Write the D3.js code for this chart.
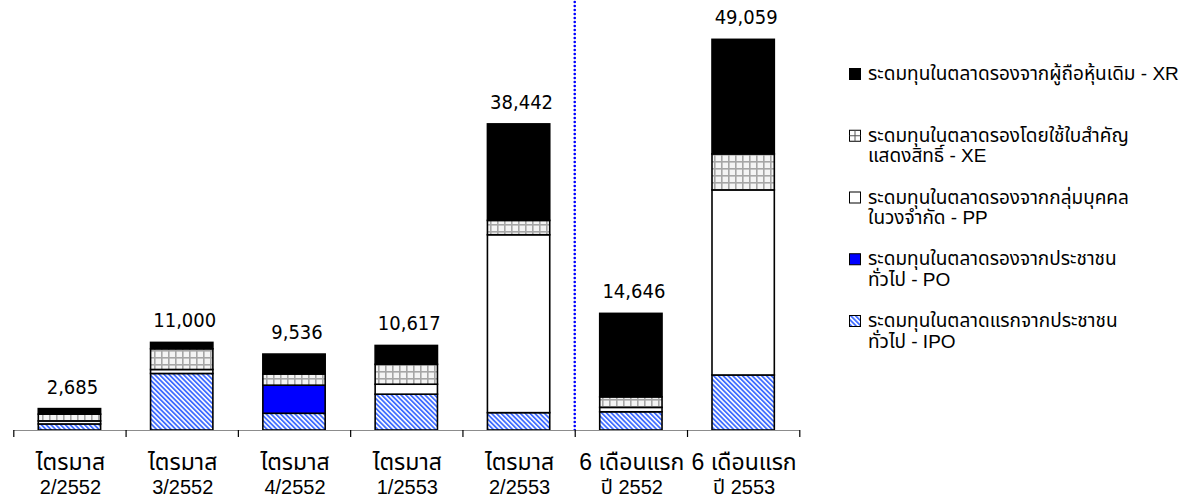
<!DOCTYPE html>
<html>
<head>
<meta charset="utf-8">
<script src="https://cdn.jsdelivr.net/npm/d3@7"></script>
<style>
  html, body { margin: 0; padding: 0; background: #ffffff; }
  svg { display: block; }
</style>
</head>
<body>
<svg id="chart" width="1185" height="499"></svg>
<script>
// ---- data ----
const catLine1 = ["ไตรมาส", "ไตรมาส", "ไตรมาส", "ไตรมาส", "ไตรมาส", "6 เดือนแรก", "6 เดือนแรก"];
const catLine2 = ["2/2552", "3/2552", "4/2552", "1/2553", "2/2553", "ปี 2552", "ปี 2553"];
const ipo = [760, 7100, 2100, 4500, 2180, 2290, 6910];
const po  = [0, 0, 3530, 0, 0, 0, 0];
const pp  = [380, 500, 0, 1250, 22340, 550, 23240];
const xe  = [850, 2600, 1400, 2500, 1800, 1320, 4520];
const xr  = [695, 800, 2506, 2367, 12122, 10486, 14389];
const totals = [2685, 11000, 9536, 10617, 38442, 14646, 49059];
const seriesKeys = ["IPO", "PO", "PP", "XE", "XR"];
const legendLines = [
  ["ระดมทุนในตลาดรองจากผู้ถือหุ้นเดิม - XR"],
  ["ระดมทุนในตลาดรองโดยใช้ใบสำคัญ", "แสดงสิทธิ์ - XE"],
  ["ระดมทุนในตลาดรองจากกลุ่มบุคคล", "ในวงจำกัด - PP"],
  ["ระดมทุนในตลาดรองจากประชาชน", "ทั่วไป - PO"],
  ["ระดมทุนในตลาดแรกจากประชาชน", "ทั่วไป - IPO"]
];
const legendKeys = ["XR", "XE", "PP", "PO", "IPO"];

// ---- setup ----
const svg = d3.select("#chart");
const thaiFont = "'Liberation Sans', Arial, Tahoma, 'Noto Sans Thai', 'Noto Sans Thai UI', Loma, Garuda, sans-serif";
const numFont = "'DejaVu Sans Condensed', 'DejaVu Sans', sans-serif";

const defs = svg.append("defs");
const stripe = defs.append("pattern").attr("id", "pIPO")
  .attr("patternUnits", "userSpaceOnUse").attr("width", 3.4).attr("height", 10)
  .attr("patternTransform", "rotate(-45)");
stripe.append("rect").attr("width", 3.4).attr("height", 10).attr("fill", "#ffffff");
stripe.append("rect").attr("width", 1.8).attr("height", 10).attr("fill", "#3f6cff");

const grid = defs.append("pattern").attr("id", "pXE")
  .attr("patternUnits", "userSpaceOnUse").attr("width", 7).attr("height", 7);
grid.append("rect").attr("width", 7).attr("height", 7).attr("fill", "#f4f4f4");
grid.append("rect").attr("width", 7).attr("height", 1.6).attr("fill", "#a6a6a6");
grid.append("rect").attr("width", 1.6).attr("height", 7).attr("fill", "#a6a6a6");

const fills = { IPO: "url(#pIPO)", PO: "#0000ff", PP: "#ffffff", XE: "url(#pXE)", XR: "#000000" };

// ---- scales ----
const x = d3.scaleBand().domain(d3.range(catLine2.length)).range([13.3, 799.3]).padding(0);
const y = d3.scaleLinear().domain([0, 54000]).range([430, 0]);
const barW = x.bandwidth() * 0.555;

// ---- stacked data ----
const rows = catLine2.map((c, i) => ({ i, IPO: ipo[i], PO: po[i], PP: pp[i], XE: xe[i], XR: xr[i] }));
const stacked = d3.stack().keys(seriesKeys)(rows);

// dotted separator
const sepX = x(5);
svg.append("line")
  .attr("x1", sepX).attr("x2", sepX).attr("y1", 2).attr("y2", 432)
  .attr("stroke", "#0000ff").attr("stroke-width", 2.6)
  .attr("stroke-linecap", "round")
  .attr("stroke-dasharray", "0,4");

// bars
const layers = svg.append("g").selectAll("g").data(stacked).join("g")
  .attr("fill", d => fills[d.key]);
layers.selectAll("rect").data(d => d.filter(s => s[1] - s[0] > 0)).join("rect")
  .attr("x", d => x(d.data.i) + (x.bandwidth() - barW) / 2)
  .attr("width", barW)
  .attr("y", d => y(d[1]))
  .attr("height", d => y(d[0]) - y(d[1]))
  .attr("stroke", "#000").attr("stroke-width", 1.6);

// axis
const xt = d3.scaleLinear().domain([0, catLine2.length]).range([13.3, 799.3]);
const axis = svg.append("g").attr("transform", "translate(0,430)")
  .call(d3.axisBottom(xt).tickValues(d3.range(catLine2.length + 1)).tickFormat("").tickSize(7).tickSizeOuter(0));
axis.select(".domain").attr("stroke", "#8c8c8c").attr("stroke-width", 1.2);
axis.selectAll(".tick line").attr("stroke", "#000").attr("stroke-width", 1.2);

// category labels
const catG = svg.append("g").attr("font-family", thaiFont).attr("fill", "#000").attr("text-anchor", "middle");
catG.selectAll("text.l1").data(catLine1).join("text").attr("class", "l1")
  .attr("font-size", 23)
  .attr("x", (d, i) => x(i) + x.bandwidth() / 2 + 1).attr("y", 470).text(d => d);
catG.selectAll("text.l2").data(catLine2).join("text").attr("class", "l2")
  .attr("font-size", 20)
  .attr("x", (d, i) => x(i) + x.bandwidth() / 2 + 1).attr("y", 494).text(d => d);

// totals
svg.append("g").attr("font-family", numFont).attr("font-size", 20).attr("fill", "#000").attr("text-anchor", "middle")
  .selectAll("text").data(totals).join("text")
  .attr("x", (d, i) => x(i) + x.bandwidth() / 2 + 3)
  .attr("y", d => y(d) - 15)
  .text(d => d3.format(",")(d));

// legend
const lg = svg.append("g").attr("font-family", thaiFont).attr("font-size", 19).attr("fill", "#000");
legendKeys.forEach((k, i) => {
  const by = 80 + i * 61.75;
  const g = lg.append("g");
  g.append("rect").attr("x", 849.5).attr("y", by - 11.5).attr("width", 11).attr("height", 11)
    .attr("fill", k === "XE" ? "#ffffff" : fills[k]).attr("stroke", "#000").attr("stroke-width", 1);
  if (k === "XE") {
    g.append("line").attr("x1", 849.5).attr("x2", 860.5).attr("y1", by - 6).attr("y2", by - 6).attr("stroke", "#555").attr("stroke-width", 1);
    g.append("line").attr("x1", 855).attr("x2", 855).attr("y1", by - 11.5).attr("y2", by - 0.5).attr("stroke", "#555").attr("stroke-width", 1);
  }
  legendLines[i].forEach((t, j) => {
    g.append("text").attr("x", 868).attr("y", by + j * 20.5).text(t);
  });
});
</script>
</body>
</html>
